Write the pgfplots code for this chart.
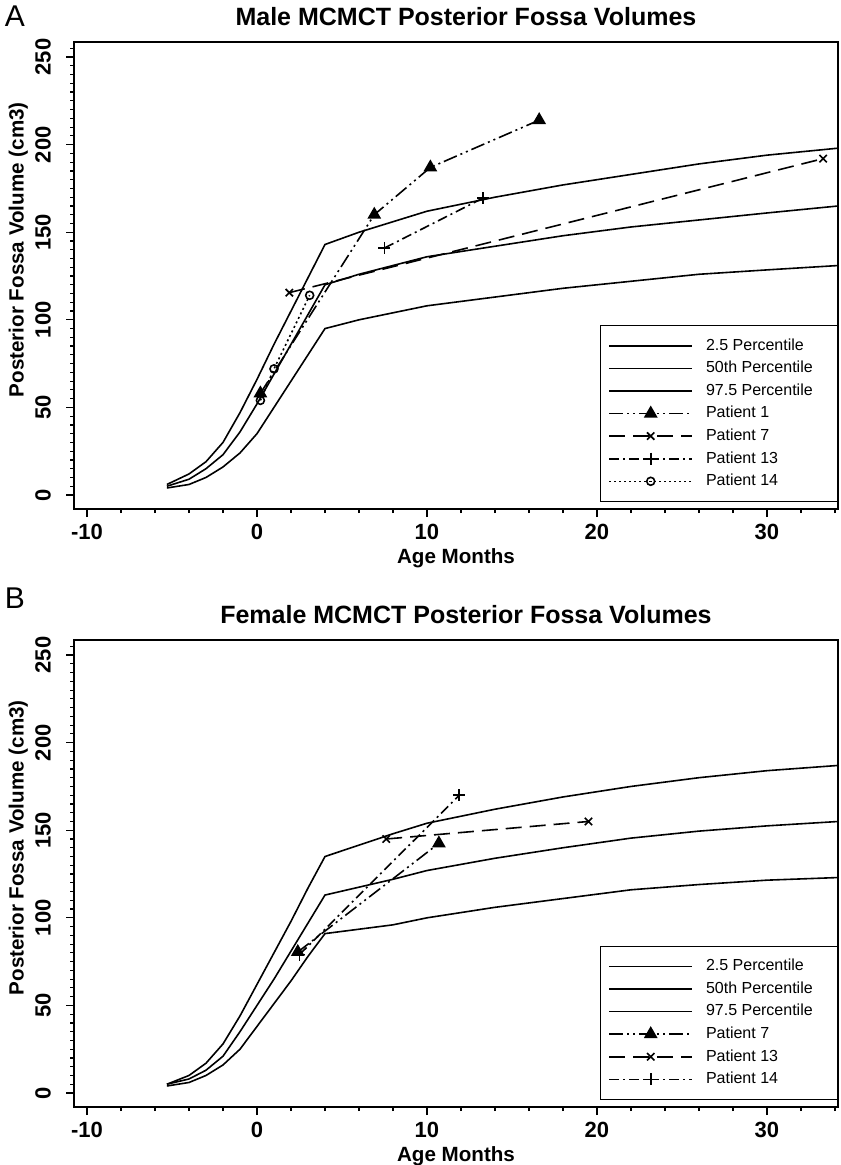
\documentclass[border=0pt]{standalone}
\usepackage{fontspec}
\setmainfont{Liberation Sans}
\usepackage{pgfplots}
\pgfplotsset{compat=1.18}

% common look of both panels (1px of the reference = 0.5pt)
\pgfplotsset{
  panel/.style={
    scale only axis, width=382pt, height=233.5pt,
    xmin=-10.765, xmax=34.18, ymin=-8, ymax=258.6,
    xtick={-10,0,10,20,30}, minor xtick={-8,-6,...,34},
    ytick={0,50,...,250}, minor ytick={5,10,...,255},
    tick align=outside, xtick pos=bottom, ytick pos=left,
    major tick length=4pt, minor tick length=2pt,
    every tick/.style={black, line width=0.6pt},
    axis line style={line width=0.8pt},
    /pgf/number format/assume math mode=true,
    tick label style={font=\bfseries\fontsize{11}{12}\selectfont},
    yticklabel style={rotate=90, anchor=south},
    yticklabel shift=4pt,
    xlabel={Age Months}, ylabel={Posterior Fossa Volume (cm3)},
    label style={font=\bfseries\fontsize{10.3}{12}\selectfont},
    xlabel style={at={(axis description cs:0.5,-0.106)}, anchor=center},
    ylabel style={at={(axis description cs:-0.073,0.555)}, anchor=center},
    title style={at={(axis description cs:0.513,1)}, anchor=center, yshift=6.5pt,
      font=\bfseries\fontsize{12.5}{14}\selectfont},
    legend style={at={(axis description cs:0.6885,0.015)}, anchor=south west,
      draw=black, font=\fontsize{8}{9}\selectfont,
      cells={anchor=west}, row sep=0pt, inner xsep=4pt, inner ysep=4.5pt},
    legend image code/.code={\draw[mark repeat=2,mark phase=2,#1]
      plot coordinates {(0pt,0pt) (20.75pt,0pt) (41.5pt,0pt)};
      \path (46pt,0pt);},
  },
  pct/.style={black, line width=0.8pt, no marks},
  ptri/.style={black, line width=0.8pt, mark=triangle*, mark size=3.2pt,
    mark options={solid},
    dash pattern=on 7pt off 2pt on 1pt off 2pt on 1pt off 2pt},
  pcross/.style={black, line width=0.8pt, mark=x, mark size=2.6pt,
    mark options={solid}, dash pattern=on 8pt off 4pt},
  pplus/.style={black, line width=0.8pt, mark=+, mark size=3pt,
    mark options={solid}, dash pattern=on 5pt off 2pt on 1pt off 2pt},
  pcirc/.style={black, line width=0.8pt, mark=o, mark size=2pt,
    mark options={solid}, dash pattern=on 1pt off 1.5pt},
}

\begin{document}
\begin{tikzpicture}
\path[use as bounding box] (0,0) rectangle (420pt,-582.5pt);

\node[font=\fontsize{15}{16}\selectfont] at (7.5pt,-8pt) {A};
\node[font=\fontsize{15}{16}\selectfont] at (7.5pt,-299pt) {B};

% ---------------- panel A ----------------
\begin{axis}[panel, at={(37pt,-254.5pt)}, anchor=south west,
  title={Male MCMCT Posterior Fossa Volumes}]
\addplot[pct] coordinates {
  (-5.3,4) (-4,6) (-3,10) (-2,16) (-1,24) (0,35) (1,50) (2,65) (3,80) (4,95)
  (6,100) (8,104) (10,108) (14,113) (18,118) (22,122) (26,126) (30,128.5) (34.2,131)
};
\addlegendentry{2.5 Percentile}
\addplot[pct] coordinates {
  (-5.3,5) (-4,9) (-3,15) (-2,23) (-1,36) (0,52) (1,69) (2,86) (3,103) (4,120)
  (6,126) (8,131) (10,136) (14,142) (18,148) (22,153) (26,157) (30,161) (34.2,165)
};
\addlegendentry{50th Percentile}
\addplot[pct] coordinates {
  (-5.3,6) (-4,12) (-3,19) (-2,30) (-1,47) (0,66) (1,86) (2,105) (3,124) (4,143)
  (6,150) (8,156) (10,162) (14,170) (18,177) (22,183) (26,189) (30,194) (34.2,198)
};
\addlegendentry{97.5 Percentile\hspace*{6.5pt}}
\addplot[ptri] coordinates {(0.2,58) (6.9,160) (10.2,187) (16.6,214)};
\addlegendentry{Patient 1}
\addplot[pcross] coordinates {(1.9,115.5) (33.3,192)};
\addlegendentry{Patient 7}
\addplot[pplus] coordinates {(7.5,141) (13.3,169.5)};
\addlegendentry{Patient 13}
\addplot[pcirc] coordinates {(0.2,54) (1.0,72) (3.1,114)};
\addlegendentry{Patient 14}
\end{axis}

% ---------------- panel B ----------------
\begin{axis}[panel, at={(37pt,-553.5pt)}, anchor=south west,
  title={Female MCMCT Posterior Fossa Volumes}]
\addplot[pct] coordinates {
  (-5.3,4) (-4,6) (-3,10) (-2,16) (-1,25) (0,38) (1,51) (2,64) (3,78) (4,91)
  (8,96) (10,100) (14,106) (18,111) (22,116) (26,119) (30,121.5) (34.2,123)
};
\addlegendentry{2.5 Percentile}
\addplot[pct] coordinates {
  (-5.3,5) (-4,8) (-3,13) (-2,21) (-1,35) (0,50) (1,65) (2,81) (3,97) (4,113)
  (8,122) (10,127) (14,134) (18,140) (22,145.5) (26,149.5) (30,152.5) (34.2,155)
};
\addlegendentry{50th Percentile}
\addplot[pct] coordinates {
  (-5.3,5) (-4,10) (-3,17) (-2,28) (-1,44) (0,62) (1,80) (2,98) (3,117) (4,135)
  (8,148) (10,154) (14,162) (18,169) (22,175) (26,180) (30,184) (34.2,187)
};
\addlegendentry{97.5 Percentile\hspace*{6.5pt}}
\addplot[ptri] coordinates {(2.4,80.5) (10.7,142.5)};
\addlegendentry{Patient 7}
\addplot[pcross] coordinates {(7.6,145) (19.5,155)};
\addlegendentry{Patient 13}
\addplot[pplus] coordinates {(2.5,79) (11.9,170)};
\addlegendentry{Patient 14}
\end{axis}
\end{tikzpicture}
\end{document}
